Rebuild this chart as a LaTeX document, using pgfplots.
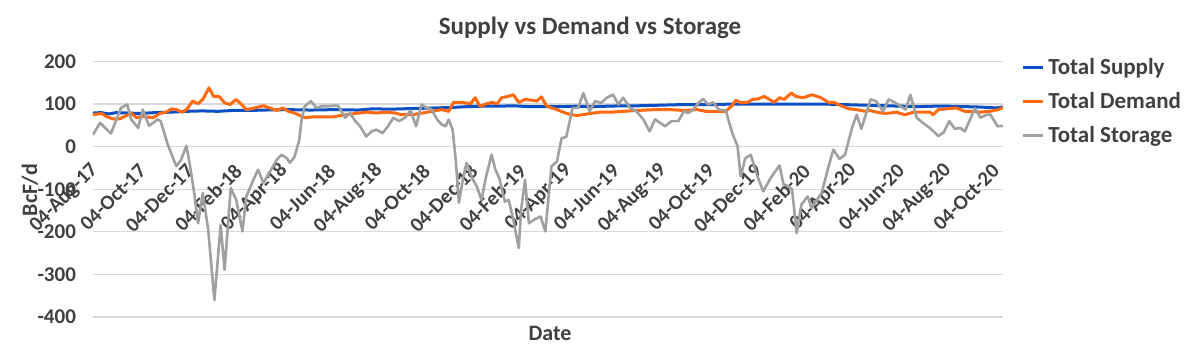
\documentclass[border=0pt]{standalone}
\usepackage{fontspec}
\setmainfont{Carlito}
\usepackage{pgfplots}
\pgfplotsset{compat=1.18}
\definecolor{supply}{HTML}{0A4FC4}
\definecolor{demand}{HTML}{FF6A10}
\definecolor{storage}{HTML}{A0A0A0}
\definecolor{txt}{HTML}{404040}
\definecolor{grd}{HTML}{D9D9D9}
\begin{document}
\begin{tikzpicture}
\useasboundingbox (0,0) rectangle (600pt,180pt);
\node[font=\bfseries\fontsize{12.5}{14}\selectfont, text=txt] at (295pt,166pt) {Supply vs Demand vs Storage};
\node[font=\bfseries\fontsize{11}{12}\selectfont, text=txt, rotate=90] at (15pt,85pt) {BcF/d};
\node[font=\bfseries\fontsize{11}{12}\selectfont, text=txt] at (275pt,13.5pt) {Date};
\begin{axis}[
  at={(46.5pt,21.5pt)}, anchor=south west,
  scale only axis, width=455pt, height=127.75pt,
  xmin=0, xmax=1169, ymin=-400, ymax=200,
  axis x line=middle, axis y line=left,
  hide obscured x ticks=false, hide obscured y ticks=false,
  axis line style={draw=none},
  major tick length=0pt,
  ymajorgrids, grid style={grd, line width=0.6pt},
  ytick={-400,-300,-200,-100,0,100,200},
  yticklabels={-400,-300,-200,-100,0,100,200},
  xtick={0,61,122,184,243,304,365,426,487,549,608,669,730,791,852,914,974,1035,1096,1157},
  xticklabels={04-Aug-17,04-Oct-17,04-Dec-17,04-Feb-18,04-Apr-18,04-Jun-18,04-Aug-18,04-Oct-18,04-Dec-18,04-Feb-19,04-Apr-19,04-Jun-19,04-Aug-19,04-Oct-19,04-Dec-19,04-Feb-20,04-Apr-20,04-Jun-20,04-Aug-20,04-Oct-20},
  xticklabel style={yshift=-8pt, xshift=3.5pt, rotate=45, anchor=east, font=\bfseries\fontsize{10.3}{12}\selectfont, text=txt},
  yticklabel style={xshift=-5pt, font=\bfseries\fontsize{10.5}{12}\selectfont, text=txt},
  legend style={draw=none, fill=none, at={(1,1)}, anchor=north west, xshift=9pt, yshift=4pt,
    font=\bfseries\fontsize{11.5}{13}\selectfont, text=txt, row sep=3.5pt, inner sep=0pt, nodes={inner sep=2pt}},
  legend cell align=left,
  legend image code/.code={\draw[#1] (0pt,0pt) -- (10pt,0pt);},
  every axis plot/.append style={line join=round},
]
\addplot[supply, line width=1.5pt] coordinates {
(0,79)(10,80)(20,77)(30,80)(45,79)(60,78)(80,80)(100,81)(120,83)(140,84)(160,83)(180,85)(200,85)(220,86)(250,87)(280,86)(310,87)(340,86)(360,89)(380,88)(400,89)(420,90)(440,91)(460,92)(480,94)(500,95)(520,95)(540,96)(560,94)(580,94)(600,94)(620,95)(640,94)(660,95)(680,96)(700,96)(720,97)(740,98)(760,99)(780,99)(800,99)(820,100)(840,100)(860,100)(880,100)(900,100)(920,100)(940,100)(960,99)(980,98)(1000,97)(1020,96)(1040,95)(1060,94)(1080,95)(1100,95)(1120,94)(1140,93)(1160,91)(1169,93)
};
\addlegendentry{Total Supply}
\addplot[demand, line width=1.5pt] coordinates {
(0,75)(11,78)(17,71)(26,65)(34,65)(43,73)(49,79)(56,68)(62,71)(68,70)(77,68)(86,78)(94,81)(101,89)(107,87)(115,81)(121,89)(128,107)(135,101)(141,111)(149,138)(155,118)(162,118)(169,103)(176,99)(184,111)(193,95)(197,87)(208,91)(219,96)(227,91)(236,85)(244,91)(251,83)(259,79)(266,73)(272,68)(283,70)(309,70)(317,73)(326,75)(337,78)(352,81)(364,79)(377,81)(388,79)(397,75)(410,75)(423,79)(435,83)(448,87)(457,83)(463,104)(474,104)(485,101)(491,115)(497,95)(506,101)(513,104)(519,101)(525,115)(533,118)(540,122)(547,104)(555,111)(564,109)(570,107)(576,117)(583,95)(596,87)(607,79)(614,75)(623,73)(628,75)(639,78)(652,81)(665,81)(682,83)(699,85)(721,87)(742,87)(759,85)(776,87)(787,83)(800,83)(813,83)(820,95)(826,109)(832,103)(841,104)(847,111)(854,112)(862,118)(869,111)(875,104)(882,115)(888,111)(897,126)(903,118)(912,115)(924,122)(935,115)(946,103)(952,104)(961,96)(971,89)(981,87)(992,83)(998,85)(1007,81)(1017,78)(1024,79)(1032,81)(1043,75)(1054,81)(1062,81)(1075,81)(1079,75)(1086,87)(1097,89)(1109,91)(1120,83)(1131,83)(1139,81)(1152,83)(1163,87)(1169,92)
};
\addlegendentry{Total Demand}
\addplot[storage, line width=1.3pt] coordinates {
(0,28)(9,56)(23,31)(36,91)(44,99)(49,64)(58,44)(64,87)(72,49)(83,64)(87,60)(96,5)(107,-46)(113,-31)(120,2)(124,-38)(130,-109)(135,-180)(141,-109)(148,-195)(156,-360)(164,-184)(169,-289)(177,-97)(184,-125)(192,-199)(197,-117)(206,-78)(212,-54)(219,-85)(225,-66)(236,-31)(242,-19)(249,-27)(253,-38)(259,-23)(265,16)(268,64)(272,95)(280,107)(287,91)(294,95)(302,95)(309,96)(315,96)(319,83)(324,68)(330,79)(337,60)(343,48)(351,24)(358,36)(364,40)(372,32)(379,48)(386,68)(393,60)(401,68)(408,85)(415,48)(422,99)(429,91)(435,87)(442,64)(448,52)(453,48)(457,64)(462,40)(466,-31)(470,-132)(475,-78)(480,-38)(487,-74)(493,-93)(499,-125)(505,-70)(512,-19)(517,-54)(522,-74)(529,-129)(534,-125)(540,-172)(547,-238)(550,-148)(555,-78)(560,-180)(566,-172)(575,-164)(581,-199)(589,-46)(596,-35)(602,20)(608,23)(616,91)(623,91)(630,126)(638,83)(645,107)(653,103)(660,115)(668,122)(675,99)(681,115)(690,91)(698,83)(707,64)(715,36)(722,64)(735,48)(743,60)(752,60)(759,83)(765,79)(771,87)(778,103)(784,112)(790,99)(797,104)(804,87)(813,85)(817,58)(822,28)(828,1)(832,-70)(838,-27)(845,-19)(852,-62)(861,-105)(871,-72)(882,-44)(887,-88)(893,-93)(898,-100)(904,-203)(910,-136)(918,-117)(923,-144)(936,-109)(945,-46)(951,-7)(959,-29)(966,-19)(975,44)(981,75)(987,42)(999,111)(1006,107)(1015,83)(1022,111)(1031,103)(1044,87)(1050,122)(1058,68)(1066,56)(1075,44)(1086,25)(1093,34)(1100,60)(1107,42)(1114,44)(1120,36)(1133,90)(1140,68)(1148,75)(1153,75)(1162,48)(1169,49)
};
\addlegendentry{Total Storage}
\end{axis}
\end{tikzpicture}
\end{document}
